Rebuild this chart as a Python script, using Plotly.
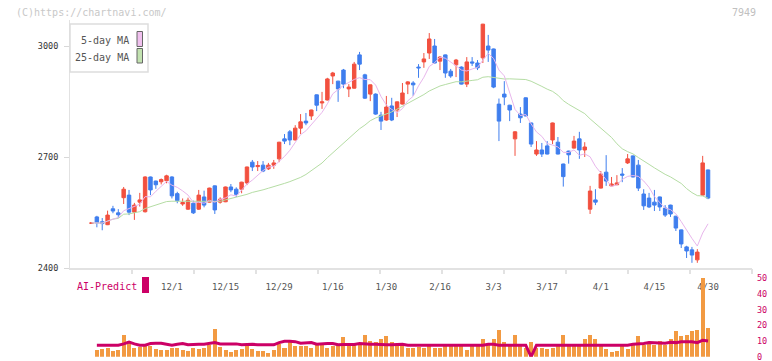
import plotly.graph_objects as go
import pandas as pd

W, H = 772, 361

# ---------------- data ----------------
dates = (
    ["11/7", "11/10", "11/11", "11/12", "11/13", "11/14", "11/17", "11/18", "11/19", "11/20",
     "11/21", "11/25", "11/26", "11/27", "11/28"]
    + ["12/1", "12/2", "12/3", "12/4", "12/5", "12/8", "12/9", "12/10", "12/11", "12/12",
       "12/15", "12/16", "12/17", "12/18", "12/19", "12/22", "12/23", "12/24", "12/25", "12/26",
       "12/29", "12/30"]
    + ["1/5", "1/6", "1/7", "1/8", "1/9", "1/13", "1/14", "1/15", "1/16", "1/19", "1/20", "1/21",
       "1/22", "1/23", "1/26", "1/27", "1/28", "1/29", "1/30"]
    + ["2/2", "2/3", "2/4", "2/5", "2/6", "2/9", "2/10", "2/12", "2/13", "2/16", "2/17", "2/18",
       "2/19", "2/20", "2/24", "2/25", "2/26", "2/27"]
    + ["3/2", "3/3", "3/4", "3/5", "3/6", "3/9", "3/10", "3/11", "3/12", "3/13", "3/16", "3/17",
       "3/18", "3/19", "3/23", "3/24", "3/25", "3/26", "3/27", "3/30", "3/31"]
    + ["4/1", "4/2", "4/3", "4/6", "4/7", "4/8", "4/9", "4/10", "4/13", "4/14", "4/15", "4/16",
       "4/17", "4/20", "4/21", "4/22", "4/23", "4/24", "4/27", "4/28", "4/30"]
)

opens = [2520.5, 2538, 2525, 2517, 2560, 2549, 2590, 2597, 2551, 2578,
         2552, 2646, 2635, 2633, 2636, 2646, 2601, 2573, 2559, 2575,
         2559, 2592, 2578, 2622, 2578, 2579, 2619, 2613, 2613, 2630,
         2686, 2674, 2678, 2668, 2678, 2695, 2749, 2768, 2746, 2778,
         2797, 2811, 2868, 2846, 2854, 2919, 2905, 2935, 2884, 2886,
         2976, 2922, 2870, 2870, 2813, 2800, 2838, 2827, 2843, 2897,
         2900, 2943, 2957, 2981, 3000, 2959, 2976, 2932, 2949, 2943,
         2897, 2957, 2954, 2968, 3000, 2992, 2843, 2870, 2840, 2749,
         2816, 2860, 2792, 2708, 2719, 2730, 2746, 2740, 2681, 2716,
         2724, 2749, 2719, 2559, 2584, 2616, 2659, 2622, 2625, 2654,
         2684, 2703, 2678, 2600, 2589, 2578, 2592, 2562, 2570, 2540,
         2503, 2457, 2449, 2422, 2597, 2665]
highs = [2523, 2541, 2535, 2555, 2568, 2559, 2619, 2611, 2576, 2603,
         2648, 2647, 2636, 2642, 2652, 2648, 2606, 2588, 2590, 2582,
         2611, 2609, 2617, 2623, 2591, 2620, 2627, 2618, 2633, 2674,
         2692, 2689, 2689, 2684, 2692, 2741, 2762, 2773, 2786, 2816,
         2819, 2828, 2869, 2876, 2914, 2930, 2906, 2938, 2897, 2957,
         2984, 2925, 2896, 2872, 2822, 2865, 2860, 2850, 2900, 2905,
         2905, 2951, 2981, 3035, 3019, 2973, 2977, 2938, 2965, 2945,
         2970, 2970, 2962, 3060, 3030, 2993, 2858, 2905, 2841, 2770,
         2835, 2861, 2793, 2743, 2738, 2743, 2793, 2754, 2682, 2717,
         2757, 2768, 2740, 2622, 2613, 2662, 2705, 2646, 2651, 2670,
         2708, 2704, 2692, 2613, 2603, 2611, 2593, 2570, 2571, 2541,
         2504, 2460, 2457, 2451, 2703, 2666]
lows = [2519, 2510, 2502, 2516, 2548, 2536, 2573, 2543, 2530, 2566,
        2550, 2597, 2614, 2626, 2629, 2588, 2575, 2568, 2557, 2546,
        2557, 2564, 2577, 2546, 2574, 2578, 2605, 2592, 2602, 2624,
        2662, 2662, 2659, 2665, 2668, 2686, 2735, 2732, 2745, 2762,
        2786, 2800, 2824, 2830, 2853, 2897, 2849, 2886, 2862, 2885,
        2935, 2857, 2851, 2814, 2773, 2798, 2797, 2808, 2842, 2870,
        2865, 2914, 2941, 2965, 2953, 2935, 2914, 2914, 2916, 2896,
        2889, 2946, 2935, 2954, 2957, 2886, 2743, 2840, 2797, 2703,
        2792, 2810, 2727, 2703, 2700, 2707, 2735, 2707, 2620, 2682,
        2723, 2695, 2700, 2546, 2570, 2615, 2622, 2621, 2624, 2632,
        2681, 2645, 2608, 2557, 2562, 2554, 2554, 2538, 2538, 2500,
        2454, 2427, 2414, 2414, 2596, 2586]
closes = [2522, 2522, 2520, 2543, 2554, 2544, 2613, 2551, 2570, 2584,
          2646, 2611, 2625, 2639, 2649, 2595, 2582, 2577, 2583, 2549,
          2597, 2570, 2616, 2557, 2586, 2619, 2611, 2599, 2632, 2673,
          2673, 2677, 2662, 2678, 2684, 2740, 2743, 2746, 2778, 2795,
          2792, 2827, 2840, 2849, 2911, 2927, 2884, 2897, 2889, 2951,
          2951, 2859, 2895, 2816, 2797, 2835, 2800, 2849, 2873, 2903,
          2895, 2941, 2965, 3019, 2954, 2970, 2927, 2919, 2962, 2897,
          2957, 2954, 2941, 3059, 2989, 2889, 2797, 2862, 2827, 2768,
          2806, 2811, 2735, 2719, 2708, 2708, 2792, 2708, 2647, 2706,
          2743, 2719, 2727, 2608, 2578, 2654, 2635, 2627, 2630, 2651,
          2695, 2646, 2616, 2568, 2565, 2570, 2565, 2543, 2546, 2508,
          2465, 2446, 2435, 2443, 2684, 2589]

# lower panel (first day has no bar)
volume = [None,
          4.4, 5.0, 5.5, 3.8, 4.4, 13.6, 10.0, 5.5, 6.3, 7.3,
          6.7, 5.0, 4.4, 4.4, 5.5, 5.5, 4.4, 4.0, 5.5, 5.0,
          5.5, 7.3, 17.4, 6.3, 4.4, 3.1, 4.4, 5.0, 6.9, 4.8,
          3.8, 3.8, 2.5, 4.4, 8.0, 5.7, 9.4, 6.7, 6.7, 6.9,
          5.9, 7.3, 8.0, 5.7, 6.9, 7.3, 12.4, 6.9, 7.3, 8.0,
          13.6, 10.0, 9.2, 11.1, 13.0, 9.4, 7.3, 7.3, 5.9, 5.5,
          6.5, 5.5, 6.9, 5.5, 5.9, 6.9, 6.9, 6.9, 7.3, 4.4,
          6.9, 7.3, 11.5, 7.3, 11.5, 16.7, 9.2, 6.9, 13.6, 6.9,
          5.5, 9.2, 5.9, 5.5, 5.0, 5.5, 6.9, 14.1, 6.9, 6.9,
          7.3, 11.1, 14.1, 11.1, 7.3, 5.0, 3.1, 3.8, 6.9, 5.0,
          7.3, 13.2, 7.3, 9.2, 7.3, 10.0, 7.3, 11.1, 16.3, 13.2,
          13.6, 16.3, 17.0, 49.8, 18.0]
ai_predict = [None,
              7.4, 7.4, 7.4, 7.4, 7.4, 8.2, 9.4, 8.2, 7.4, 7.4,
              8.4, 8.6, 8.6, 8.0, 7.4, 8.0, 8.4, 7.6, 8.0, 8.0,
              8.0, 8.6, 9.0, 8.2, 8.2, 8.2, 8.2, 7.6, 8.0, 8.0,
              7.6, 7.6, 7.6, 7.6, 9.0, 9.8, 9.8, 9.6, 8.6, 8.6,
              9.0, 8.0, 8.4, 8.4, 8.4, 7.6, 7.8, 7.8, 7.8, 8.4,
              8.0, 8.0, 8.0, 7.6, 7.6, 7.6, 8.0, 8.0, 7.4, 7.4,
              7.4, 7.4, 7.4, 7.4, 7.4, 7.4, 7.4, 7.4, 7.4, 7.4,
              7.4, 7.4, 7.4, 8.0, 8.0, 7.4, 7.4, 7.4, 7.4, 7.4,
              7.4, 0.0, 7.4, 7.4, 7.4, 7.4, 7.4, 7.4, 7.4, 7.4,
              7.4, 7.4, 7.4, 7.4, 7.4, 7.4, 7.4, 7.4, 7.4, 7.4,
              8.0, 8.0, 8.4, 9.0, 9.0, 8.6, 8.6, 9.2, 9.0, 9.6,
              9.6, 9.6, 9.0, 10.5, 10.0]

tick_labels = ["12/1", "12/15", "12/29", "1/16", "1/30", "2/16", "3/3", "3/17", "4/1", "4/15", "4/30"]
price_ticks = [2400, 2700, 3000]
panel_ticks = [0, 10, 20, 30, 40, 50]
code_label = "7949"

# ---------------- derived ----------------
idx = list(range(len(dates)))
s_close = pd.Series(closes)
ma5 = s_close.rolling(5, min_periods=1).mean().tolist()
ma25 = s_close.rolling(25, min_periods=1).mean().tolist()
tick_pos = [dates.index(d) for d in tick_labels]

RED = "#F2503F"
BLUE = "#3F7EEE"
MAGENTA = "#CC0066"
ORANGE = "#F29A42"
MONO = "DejaVu Sans Mono"

X0, X1 = 70, 752          # plot area in px
Y_TOP, Y_BOT = 20, 268     # main panel px
XR = [-4.01, 123.2]
YR = [2400, 2400 + (Y_BOT - Y_TOP) * 300 / 111]


def px(x):
    return x / W


def py(y):
    return 1 - y / H


fig = go.Figure()

fig.add_trace(go.Scatter(x=idx, y=ma25, mode="lines", line=dict(color="#B5DDA4", width=1),
                         hoverinfo="skip", showlegend=False))
fig.add_trace(go.Scatter(x=idx, y=ma5, mode="lines", line=dict(color="#E8B6EC", width=1),
                         hoverinfo="skip", showlegend=False))
fig.add_trace(go.Candlestick(
    x=idx, open=opens, high=highs, low=lows, close=closes,
    increasing=dict(line=dict(color=RED, width=1), fillcolor=RED),
    decreasing=dict(line=dict(color=BLUE, width=1), fillcolor=BLUE),
    whiskerwidth=0, hoverinfo="skip", showlegend=False))

fig.add_trace(go.Bar(x=idx, y=volume, xaxis="x2", yaxis="y2", width=0.75,
                     marker=dict(color=ORANGE, line=dict(width=0)),
                     hoverinfo="skip", showlegend=False))
fig.add_trace(go.Scatter(x=idx, y=ai_predict, xaxis="x2", yaxis="y2", mode="lines",
                         line=dict(color=MAGENTA, width=3), hoverinfo="skip", showlegend=False))

# invisible trace for the decorative tick axis
fig.add_trace(go.Scatter(x=[XR[0]], y=[YR[0]], xaxis="x3", yaxis="y", mode="markers",
                         marker=dict(opacity=0), hoverinfo="skip", showlegend=False))

span = XR[1] - XR[0]
deco_ticks = [XR[0] + span * k / 11 for k in range(1, 12)]

fig.update_layout(
    width=W, height=H, autosize=False,
    margin=dict(l=0, r=0, t=0, b=0, autoexpand=False),
    paper_bgcolor="white", plot_bgcolor="white",
    boxgap=0.08,
    bargap=0,
    showlegend=False,
    xaxis=dict(domain=[px(X0), px(X1)], range=XR, anchor="y", automargin=False,
               rangeslider=dict(visible=False),
               tickmode="array", tickvals=tick_pos, ticktext=tick_labels,
               ticks="", showgrid=False, zeroline=False,
               showline=True, linecolor="#E2E2E2", linewidth=2,
               ticklabelstandoff=9,
               tickfont=dict(family=MONO, size=9, color="#555555")),
    xaxis3=dict(overlaying="x", anchor="y", range=XR, side="bottom", automargin=False,
                tickmode="array", tickvals=deco_ticks, ticks="outside", ticklen=5,
                tickwidth=2, tickcolor="#E2E2E2", showticklabels=False,
                showgrid=False, zeroline=False, showline=False),
    yaxis=dict(domain=[py(Y_BOT), py(Y_TOP)], range=YR, anchor="x", automargin=False,
               tickmode="array", tickvals=price_ticks,
               ticks="outside", ticklen=5, tickcolor="#D8D8D8", tickwidth=1,
               showgrid=False, zeroline=False, showline=True, linecolor="#E2E2E2", linewidth=1,
               ticklabelstandoff=4,
               tickfont=dict(family=MONO, size=8.5, color="#333333")),
    xaxis2=dict(domain=[px(X0), px(X1)], range=XR, anchor="y2", visible=False, automargin=False),
    yaxis2=dict(domain=[py(356.8), py(278)], range=[0, 50], anchor="x2", side="right",
                automargin=False,
                tickmode="array", tickvals=panel_ticks, ticktext=[str(v) for v in panel_ticks],
                ticks="", showgrid=False, zeroline=False, showline=False,
                ticklabelstandoff=4, ticklabeloverflow="allow",
                tickfont=dict(family=MONO, size=8.5, color=MAGENTA)),
)

# --- text decorations ---
fig.add_annotation(text="(C)https://chartnavi.com/", x=px(14), y=py(12), xref="paper", yref="paper",
                   xanchor="left", yanchor="middle", showarrow=False,
                   font=dict(family=MONO, size=10, color="#C8C8C8"))
fig.add_annotation(text=code_label, x=px(758), y=py(12), xref="paper", yref="paper",
                   xanchor="right", yanchor="middle", showarrow=False,
                   font=dict(family=MONO, size=10, color="#C0C0C0"))

# legend box
fig.add_shape(type="rect", xref="paper", yref="paper", x0=px(70), x1=px(148), y0=py(72), y1=py(24),
              line=dict(color="#DDDDDD", width=1.5), fillcolor="white")
fig.add_annotation(text="5-day MA", x=px(131), y=py(40), xref="paper", yref="paper",
                   xanchor="right", yanchor="middle", showarrow=False,
                   font=dict(family=MONO, size=10, color="#555555"))
fig.add_annotation(text="25-day MA", x=px(131), y=py(57), xref="paper", yref="paper",
                   xanchor="right", yanchor="middle", showarrow=False,
                   font=dict(family=MONO, size=10, color="#555555"))
fig.add_shape(type="rect", xref="paper", yref="paper", x0=px(137), x1=px(142.5), y0=py(46.5), y1=py(31.5),
              line=dict(color="#666666", width=1), fillcolor="#F0C0EE")
fig.add_shape(type="rect", xref="paper", yref="paper", x0=px(137), x1=px(142.5), y0=py(63), y1=py(48.5),
              line=dict(color="#666666", width=1), fillcolor="#C2E2B0")

# AI-Predict label
fig.add_annotation(text="AI-Predict", x=px(75), y=py(286), xref="paper", yref="paper",
                   xanchor="left", yanchor="middle", showarrow=False,
                   font=dict(family=MONO, size=10, color=MAGENTA))
fig.add_shape(type="rect", xref="paper", yref="paper", x0=px(142), x1=px(149), y0=py(293), y1=py(277),
              line=dict(width=0), fillcolor=MAGENTA)

fig.write_html("out.html", config={"displayModeBar": False},
               post_script="document.body.style.margin='0px';")
